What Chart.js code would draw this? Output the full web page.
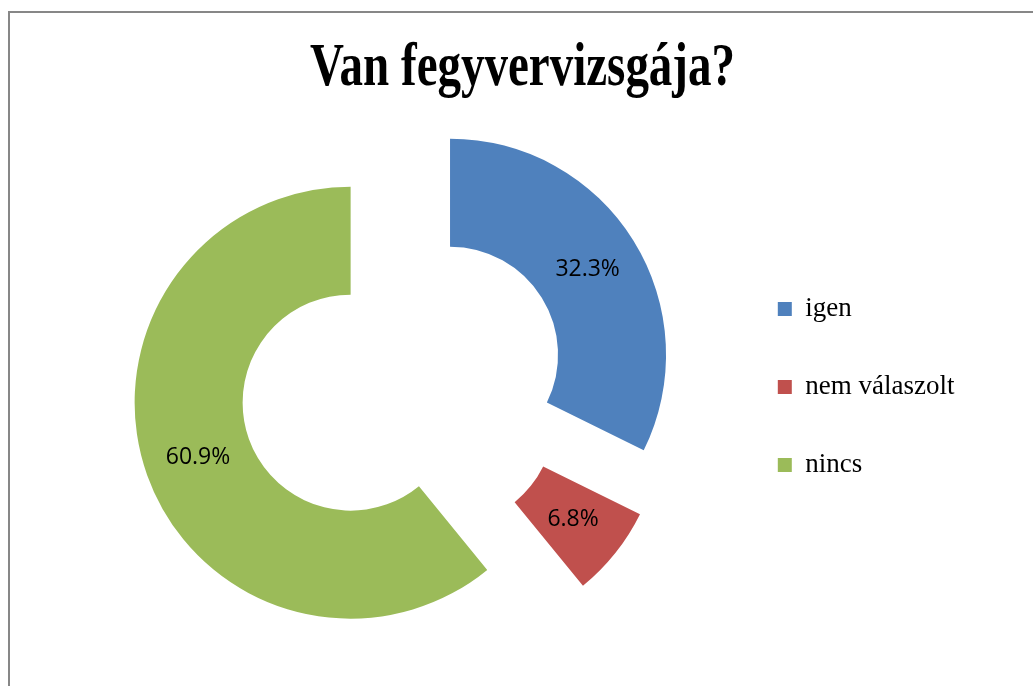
<!DOCTYPE html>
<html>
<head>
<meta charset="utf-8">
<script src="https://cdn.jsdelivr.net/npm/chart.js@4.4.1/dist/chart.umd.min.js"></script>
<style>
html,body{margin:0;padding:0;background:#fff;overflow:hidden;width:1033px;height:686px}
#frame{position:absolute;left:8px;top:11px;width:1040px;height:700px;border:2px solid #878787;background:#fff}
#c{position:absolute;left:0;top:0}
</style>
</head>
<body>
<div id="frame"><canvas id="c" width="1024" height="673"></canvas></div>
<script>
const chartTitle = 'Van fegyvervizsgája?';
const categories = ['igen', 'nem válaszolt', 'nincs'];
const values = [32.3, 6.8, 60.9];
const colors = ['#4F81BD', '#C0504D', '#9BBB59'];

const EXPLODE = 55.5; // distance each slice is pulled out

// title drawn a bit condensed, like the original
const titlePlugin = {
  id: 'bigTitle',
  afterDraw(chart) {
    const ctx = chart.ctx;
    ctx.save();
    ctx.font = 'bold 62px "Liberation Serif", "Times New Roman", serif';
    ctx.fillStyle = '#000';
    ctx.textAlign = 'center';
    ctx.textBaseline = 'alphabetic';
    const w = ctx.measureText(chartTitle).width;
    ctx.translate(512.5, 72);
    ctx.scale(425 / w, 1);
    ctx.fillText(chartTitle, 0, 0);
    ctx.restore();
  }
};

// exploded slices: shift every arc along its mid angle
const explodePlugin = {
  id: 'explode',
  beforeDatasetDraw(chart, args) {
    const ctx = chart.ctx;
    args.meta.data.forEach(arc => {
      const a = (arc.startAngle + arc.endAngle) / 2;
      ctx.save();
      ctx.translate(Math.cos(a) * EXPLODE, Math.sin(a) * EXPLODE);
      arc.draw(ctx);
      ctx.restore();
    });
    return false;
  }
};

// percentage labels in the middle of each slice
const labelPlugin = {
  id: 'pctLabels',
  afterDatasetsDraw(chart) {
    const ctx = chart.ctx;
    const meta = chart.getDatasetMeta(0);
    const total = values.reduce((s, v) => s + v, 0);
    ctx.save();
    ctx.font = '23px "Open Sans", sans-serif';
    ctx.fillStyle = '#000';
    ctx.textAlign = 'center';
    ctx.textBaseline = 'middle';
    meta.data.forEach((arc, i) => {
      const p = arc.tooltipPosition();
      const a = (arc.startAngle + arc.endAngle) / 2;
      const x = p.x + Math.cos(a) * EXPLODE;
      const y = p.y + Math.sin(a) * EXPLODE;
      ctx.fillText((values[i] / total * 100).toFixed(1) + '%', x, y);
    });
    ctx.restore();
  }
};

new Chart(document.getElementById('c'), {
  type: 'doughnut',
  data: {
    labels: categories,
    datasets: [{
      data: values,
      backgroundColor: colors,
      borderWidth: 0,
      offset: 0,
      hoverOffset: 0
    }]
  },
  options: {
    responsive: false,
    animation: false,
    cutout: '50%',
    layout: { padding: { left: 69, top: 155, right: 69.5, bottom: 86 } },
    plugins: {
      title: { display: false },
      tooltip: { enabled: false },
      legend: {
        position: 'right',
        // empty legend title only nudges the items down a little
        title: { display: true, text: '', font: { size: 5 }, padding: 0 },
        labels: {
          boxWidth: 14,
          boxHeight: 14,
          padding: 51,
          color: '#000',
          font: { family: '"Liberation Serif", "Times New Roman", serif', size: 27 }
        }
      }
    }
  },
  plugins: [titlePlugin, explodePlugin, labelPlugin]
});
</script>
</body>
</html>
